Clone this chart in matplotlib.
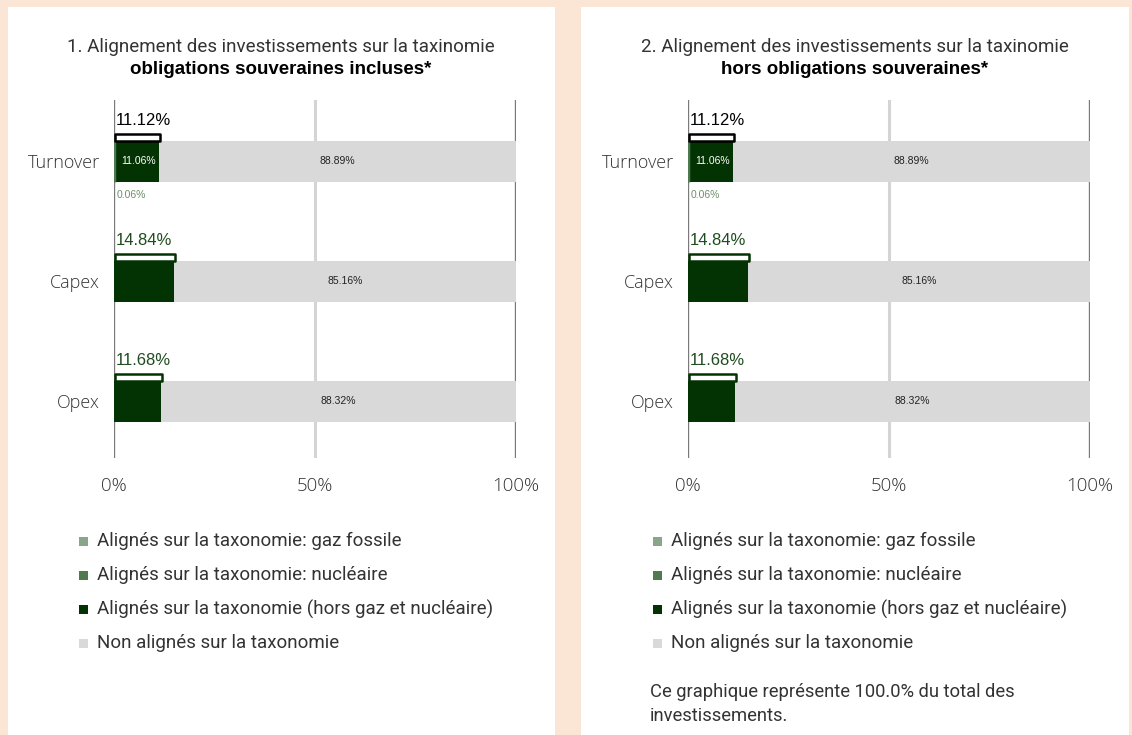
import matplotlib.pyplot as plt
from matplotlib.patches import Rectangle

# data
categories = ["Turnover", "Capex", "Opex"]
gaz_fossile = [0.0, 0.0, 0.0]
nucleaire = [0.06, 0.0, 0.0]
hors_gaz_nucleaire = [11.06, 14.84, 11.68]
non_alignes = [88.89, 85.16, 88.32]
total_aligne = [11.12, 14.84, 11.68]

titles = ["1. Alignement des investissements sur la taxinomie",
          "2. Alignement des investissements sur la taxinomie"]
subtitles = ["obligations souveraines incluses*", "hors obligations souveraines*"]
legend_labels = ["Alignés sur la taxonomie: gaz fossile",
                 "Alignés sur la taxonomie: nucléaire",
                 "Alignés sur la taxonomie (hors gaz et nucléaire)",
                 "Non alignés sur la taxonomie"]
note = "Ce graphique représente 100.0% du total des\ninvestissements."

# colours
PEACH = "#fbe6d5"
C_GAS = "#8aa68a"
C_NUC = "#4f7a50"
C_DARK = "#033303"
C_GREY = "#d9d9d9"
C_LABEL_GREEN = "#1f4d1f"
colors = [C_GAS, C_NUC, C_DARK, C_GREY]

W, H = 1132, 735
fig = plt.figure(figsize=(W / 100, H / 100), dpi=100, facecolor=PEACH)


def px(x, y):
    # pixel coords (top-left origin) -> figure fraction
    return x / W, 1 - y / H


# white panels
for x0, x1 in [(8, 555), (581, 1129)]:
    fig.patches.append(Rectangle((x0 / W, 0), (x1 - x0) / W, 1 - 7 / H,
                                 transform=fig.transFigure, facecolor="white",
                                 edgecolor="none", zorder=-5))

bar_h = 41 / 120
bracket_h = 7 / 120

for p, dx in enumerate([0, 574]):
    left, top = px(114 + dx, 100)
    _, bottom = px(0, 458)
    ax = fig.add_axes([left, bottom, 402 / W, top - bottom])
    ax.set_zorder(1)
    ax.set_xlim(0, 100)
    ax.set_ylim(2.475, -0.51)
    ax.patch.set_alpha(0)
    for s in ax.spines.values():
        s.set_visible(False)

    ax.axvline(0, color="#7a7a7a", lw=1.7, zorder=1)
    ax.axvline(50, color="#d4d4d4", lw=2.2, zorder=1)
    ax.axvline(100, color="#7a7a7a", lw=1.7, zorder=1)

    ys = list(range(len(categories)))
    lefts = [0.0] * len(categories)
    for series, c in zip([gaz_fossile, nucleaire, hors_gaz_nucleaire, non_alignes], colors):
        lw = [2.5 if 0 < v < 1 else 0 for v in series]
        tiny = any(0 < v < 1 for v in series)
        ax.barh(ys, series, left=lefts, height=bar_h, color=c, edgecolor=c,
                linewidth=lw, zorder=2.5 if tiny else 2)
        lefts = [a + b for a, b in zip(lefts, series)]

    for i, y in enumerate(ys):
        multi = nucleaire[i] > 0 or gaz_fossile[i] > 0
        ec = "black" if multi else C_DARK
        tc = "black" if multi else C_LABEL_GREEN
        # bracket above aligned part
        ax.barh(y - bar_h / 2 - bracket_h / 2, total_aligne[i], left=0.3,
                height=bracket_h, color="white", edgecolor=ec, linewidth=1.8,
                joinstyle="round", zorder=3)
        ax.text(0.4, y - bar_h / 2 - 0.17, f"{total_aligne[i]:.2f}%",
                color=tc, fontsize=12, family="Liberation Sans",
                ha="left", va="center", zorder=4)
        # inner labels
        start = gaz_fossile[i] + nucleaire[i]
        if multi:
            ax.text(start + hors_gaz_nucleaire[i] / 2 + 0.5, y,
                    f"{hors_gaz_nucleaire[i]:.2f}%", color="white", fontsize=7.5,
                    family="Liberation Sans", ha="center", va="center", zorder=4)
            ax.text(0.6, y + bar_h / 2 + 0.11, f"{nucleaire[i]:.2f}%",
                    color="#6b8f6b", fontsize=7.5, family="Liberation Sans",
                    ha="left", va="center", zorder=4)
        s = total_aligne[i]
        ax.text(s + non_alignes[i] / 2, y, f"{non_alignes[i]:.2f}%",
                color="#222222", fontsize=7.5, family="Liberation Sans",
                ha="center", va="center", zorder=4)

    ax.set_yticks(ys)
    ax.set_yticklabels(categories, family="Open Sans", fontweight="light",
                       fontsize=13, color="#333333")
    ax.set_xticks([0, 50, 100])
    ax.set_xticklabels(["0%", "50%", "100%"], family="Open Sans", fontweight="light",
                       fontsize=13.5, color="#333333")
    ax.tick_params(length=0)
    ax.tick_params(axis="y", pad=10)
    ax.tick_params(axis="x", pad=14)

    # titles
    cx = (281 + dx) / W
    fig.text(cx, px(0, 47)[1], titles[p], ha="center", va="center",
             fontsize=13.5, family="Roboto", color="#333333")
    fig.text(cx, px(0, 70)[1], subtitles[p], ha="center", va="center",
             fontsize=13.5, family="Liberation Sans", fontweight="bold", color="black")

    # legend
    for k, (lab, c) in enumerate(zip(legend_labels, colors)):
        yy = 541 + 34 * k
        fig.patches.append(Rectangle(px(79 + dx, yy + 4.5), 9 / W, 9 / H,
                                     transform=fig.transFigure, facecolor=c,
                                     edgecolor="none", zorder=2))
        fig.text(px(97 + dx, 0)[0], px(0, yy)[1], lab, ha="left", va="center",
                 fontsize=13.5, family="Roboto", color="#333333")

    if p == 1:
        fig.text(px(650, 0)[0], px(0, 704)[1], note, ha="left", va="center",
                 fontsize=13.2, family="Roboto", color="#333333", linespacing=1.45)

fig.savefig("out.png", dpi=100, facecolor=PEACH)
